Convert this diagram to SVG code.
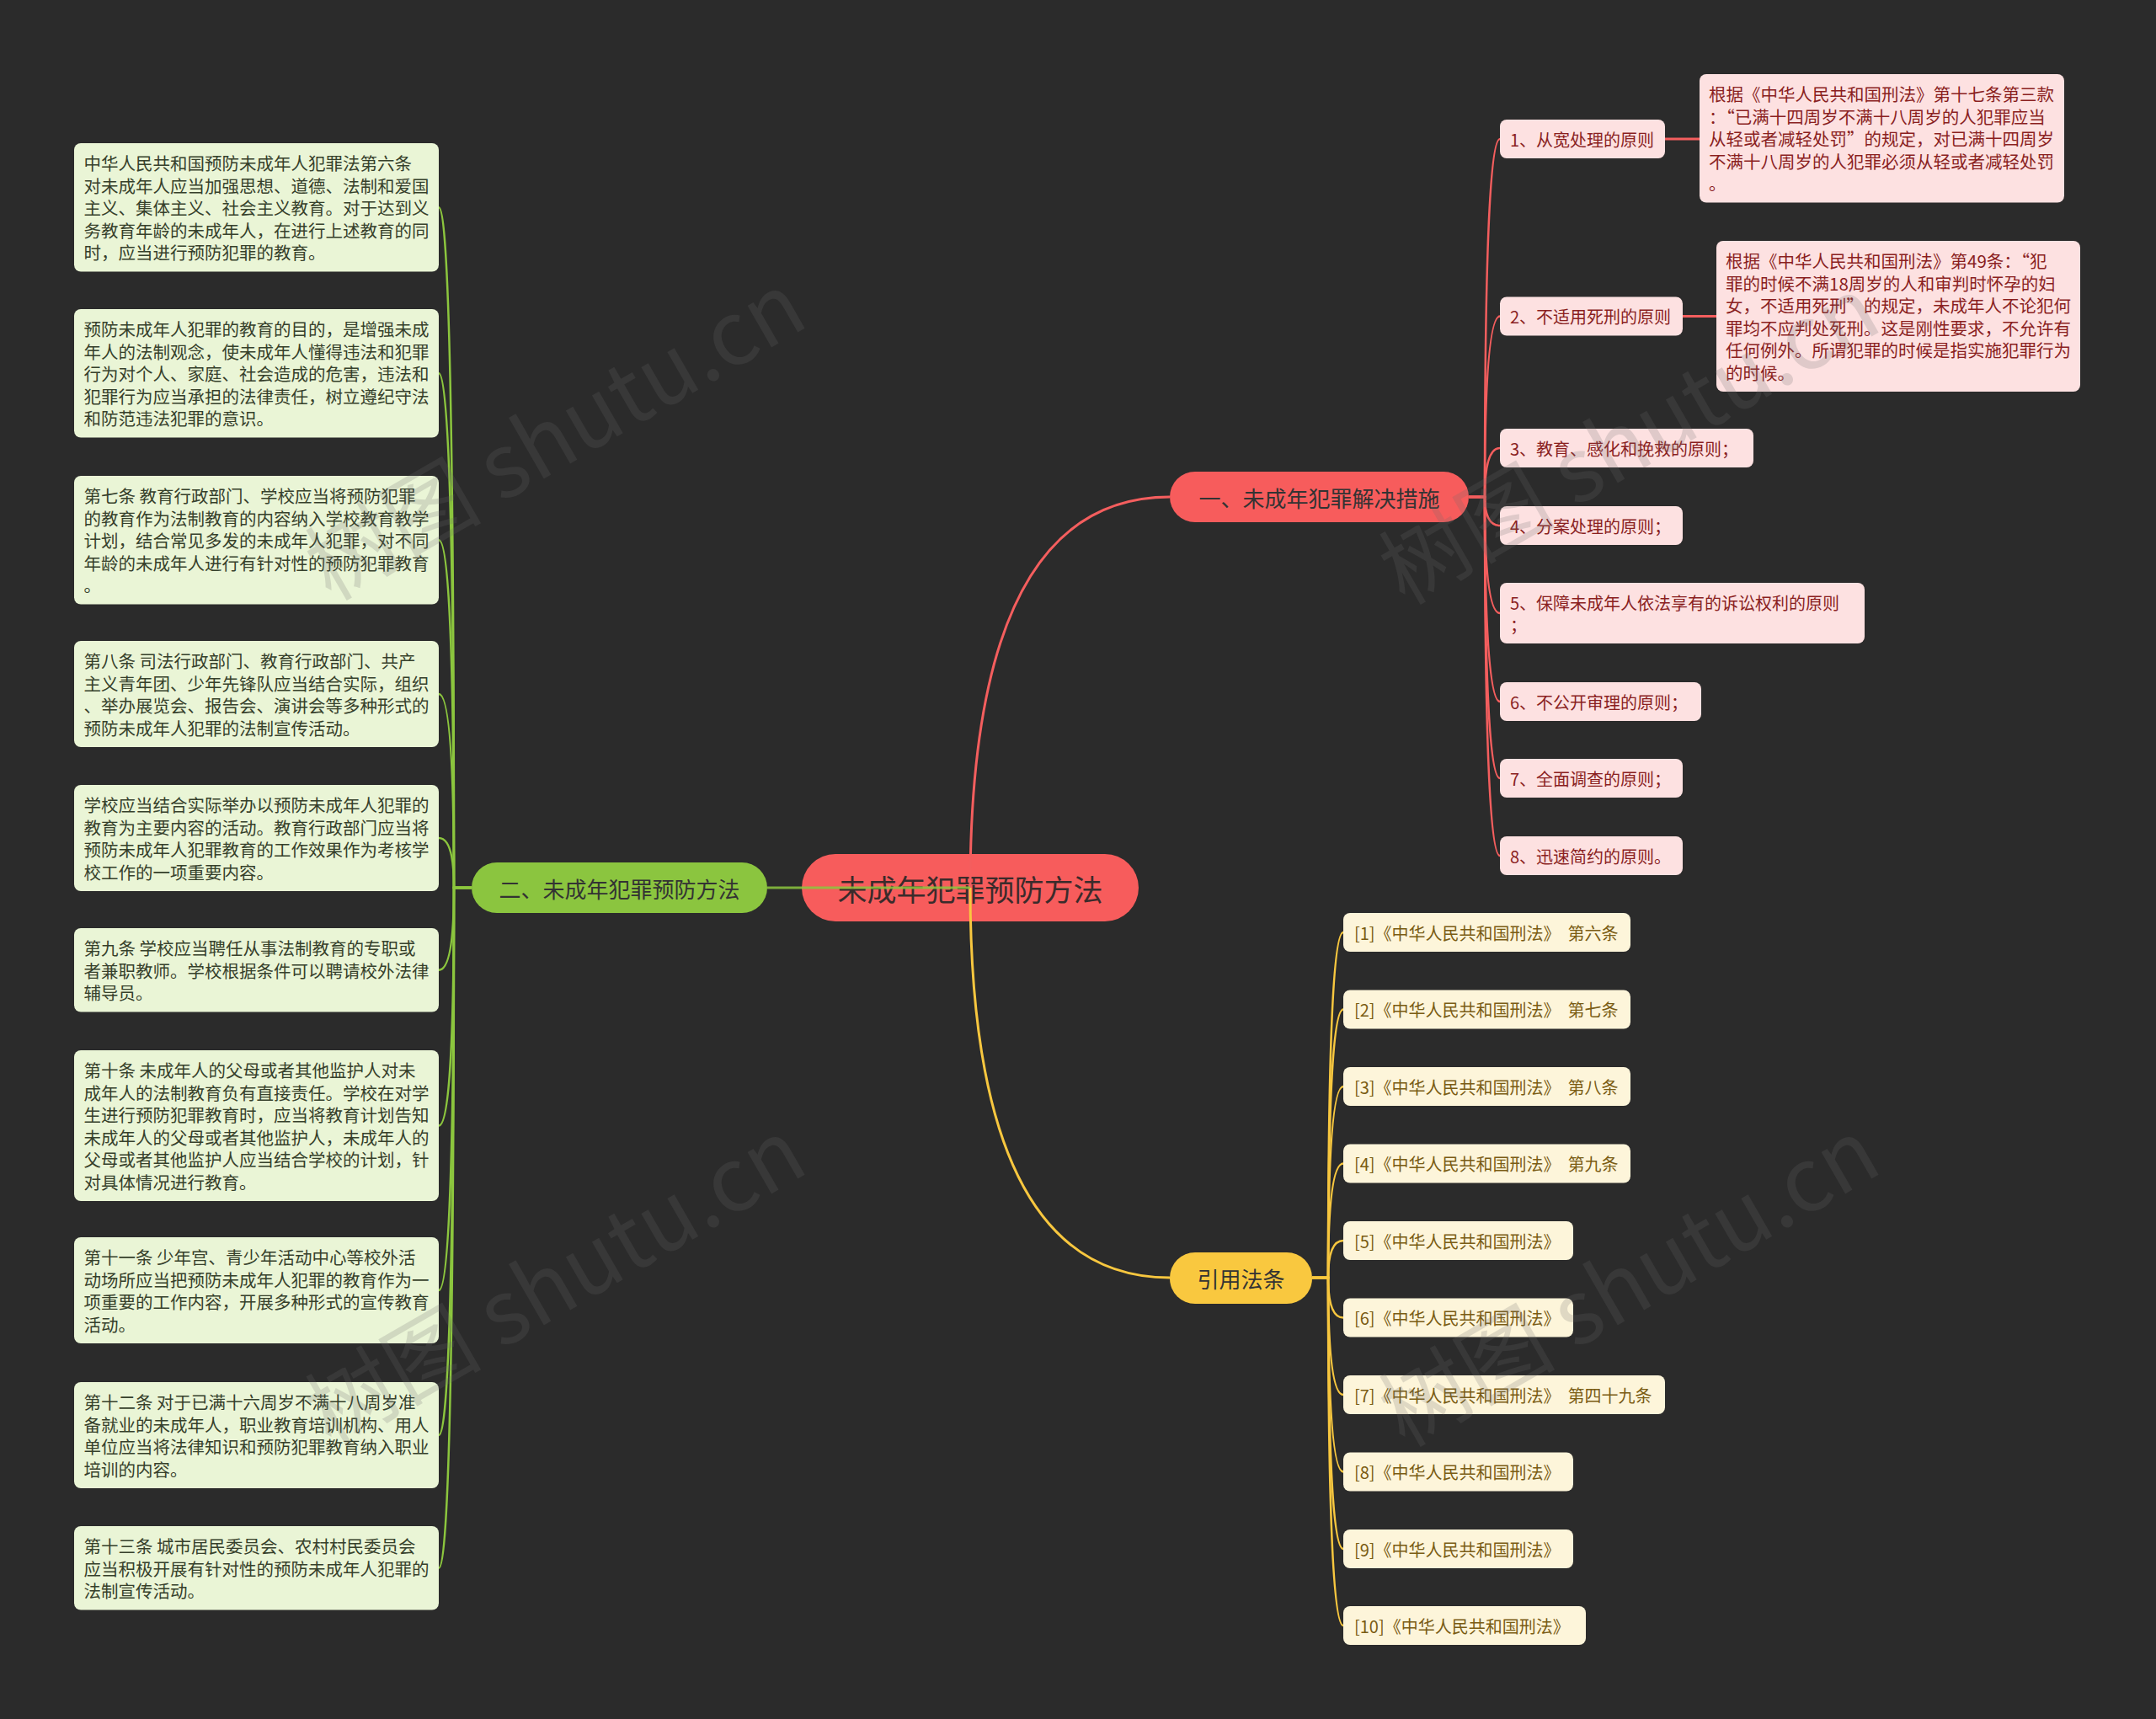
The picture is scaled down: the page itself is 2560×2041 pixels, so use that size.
<svg xmlns="http://www.w3.org/2000/svg" width="2560" height="2041" viewBox="0 0 2560 2041">
<style>
text{font-family:"Noto Sans CJK SC","Noto Sans",sans-serif;dominant-baseline:central}
.bg{fill:#2b2b2b}
.lb{fill:#eaf5d6}
.lt{font-size:20.5px;fill:#36402b}
.pb{fill:#fde1e1}
.pt{font-size:20px;fill:#8a1f1f}
.dt{font-size:20.5px;fill:#8a1f1f}
.yb{fill:#fdf5da}
.yt{font-size:20px;fill:#7a5c14;white-space:pre}
.mt{font-size:26px;fill:#333333;text-anchor:middle}
.rt{font-size:35px;fill:#3b2b2b;text-anchor:middle}
.cr{fill:none;stroke:#f45e5e;stroke-width:3}
.cg{fill:none;stroke:#8cc63e;stroke-width:3;stroke-opacity:.85}
.cy{fill:none;stroke:#f8c73f;stroke-width:3}
.cr2{fill:none;stroke:#f45e5e;stroke-width:2.5}
.cg2{fill:none;stroke:#8cc63e;stroke-width:2.5}
.cy2{fill:none;stroke:#f8c73f;stroke-width:2.5}
.wm{font-size:105px;fill:#6b6b6b;opacity:.2;text-anchor:middle}
</style>
<rect class="bg" x="0" y="0" width="2560" height="2041"/>

<g id="root">
<rect x="952" y="1014" width="400" height="80" rx="40" fill="#f75c5c"/>
<text class="rt" x="1152" y="1054">未成年犯罪预防方法</text>
</g>

<g id="n1">
<rect x="1389" y="560" width="355" height="60" rx="30" fill="#f75c5c"/>
<text class="mt" x="1566.5" y="590">一、未成年犯罪解决措施</text>
</g>
<g id="n2">
<rect x="560" y="1024" width="351" height="60" rx="30" fill="#8bc53f"/>
<text class="mt" x="735.5" y="1054">二、未成年犯罪预防方法</text>
</g>
<g id="n3">
<rect x="1389" y="1487" width="169" height="61" rx="30" fill="#f9c83f"/>
<text class="mt" x="1473.5" y="1517.5">引用法条</text>
</g>

<!-- node1 children -->
<g id="c1"><rect class="pb" x="1781" y="142" width="196" height="46" rx="8"/><text class="pt" x="1793" y="165">1、从宽处理的原则</text></g>
<g id="c2"><rect class="pb" x="1781" y="352.5" width="217" height="46" rx="8"/><text class="pt" x="1793" y="375.5">2、不适用死刑的原则</text></g>
<g id="c3"><rect class="pb" x="1781" y="509" width="301" height="46" rx="8"/><text class="pt" x="1793" y="532">3、教育、感化和挽救的原则；</text></g>
<g id="c4"><rect class="pb" x="1781" y="601" width="217" height="46" rx="8"/><text class="pt" x="1793" y="624">4、分案处理的原则；</text></g>
<g id="c5"><rect class="pb" x="1781" y="692" width="433" height="72" rx="8"/><text class="pt" x="1793" y="715">5、保障未成年人依法享有的诉讼权利的原则</text><text class="pt" x="1793" y="741">；</text></g>
<g id="c6"><rect class="pb" x="1781" y="810" width="239" height="46" rx="8"/><text class="pt" x="1793" y="833">6、不公开审理的原则；</text></g>
<g id="c7"><rect class="pb" x="1781" y="901" width="217" height="46" rx="8"/><text class="pt" x="1793" y="924">7、全面调查的原则；</text></g>
<g id="c8"><rect class="pb" x="1781" y="993" width="217" height="46" rx="8"/><text class="pt" x="1793" y="1016">8、迅速简约的原则。</text></g>

<g id="d1"><rect class="pb" x="2018" y="88" width="433" height="152.5" rx="8"/>
<text class="dt" x="2029" y="111.25">根据《中华人民共和国刑法》第十七条第三款</text>
<text class="dt" x="2029" y="137.75">：“已满十四周岁不满十八周岁的人犯罪应当</text>
<text class="dt" x="2029" y="164.25">从轻或者减轻处罚”的规定，对已满十四周岁</text>
<text class="dt" x="2029" y="190.75">不满十八周岁的人犯罪必须从轻或者减轻处罚</text>
<text class="dt" x="2029" y="217.25">。</text>
</g>
<g id="d2"><rect class="pb" x="2038" y="286" width="432" height="179" rx="8"/>
<text class="dt" x="2049" y="309.25">根据《中华人民共和国刑法》第49条：“犯</text>
<text class="dt" x="2049" y="335.75">罪的时候不满18周岁的人和审判时怀孕的妇</text>
<text class="dt" x="2049" y="362.25">女，不适用死刑”的规定，未成年人不论犯何</text>
<text class="dt" x="2049" y="388.75">罪均不应判处死刑。这是刚性要求，不允许有</text>
<text class="dt" x="2049" y="415.25">任何例外。所谓犯罪的时候是指实施犯罪行为</text>
<text class="dt" x="2049" y="441.75">的时候。</text>
</g>

<!-- left boxes -->
<g id="b1"><rect class="lb" x="88" y="170" width="433" height="152.5" rx="8"/>
<text class="lt" x="99.5" y="193.25">中华人民共和国预防未成年人犯罪法第六条</text>
<text class="lt" x="99.5" y="219.75">对未成年人应当加强思想、道德、法制和爱国</text>
<text class="lt" x="99.5" y="246.25">主义、集体主义、社会主义教育。对于达到义</text>
<text class="lt" x="99.5" y="272.75">务教育年龄的未成年人，在进行上述教育的同</text>
<text class="lt" x="99.5" y="299.25">时，应当进行预防犯罪的教育。</text>
</g>
<g id="b2"><rect class="lb" x="88" y="367" width="433" height="152.5" rx="8"/>
<text class="lt" x="99.5" y="390.25">预防未成年人犯罪的教育的目的，是增强未成</text>
<text class="lt" x="99.5" y="416.75">年人的法制观念，使未成年人懂得违法和犯罪</text>
<text class="lt" x="99.5" y="443.25">行为对个人、家庭、社会造成的危害，违法和</text>
<text class="lt" x="99.5" y="469.75">犯罪行为应当承担的法律责任，树立遵纪守法</text>
<text class="lt" x="99.5" y="496.25">和防范违法犯罪的意识。</text>
</g>
<g id="b3"><rect class="lb" x="88" y="565" width="433" height="152.5" rx="8"/>
<text class="lt" x="99.5" y="588.25">第七条 教育行政部门、学校应当将预防犯罪</text>
<text class="lt" x="99.5" y="614.75">的教育作为法制教育的内容纳入学校教育教学</text>
<text class="lt" x="99.5" y="641.25">计划，结合常见多发的未成年人犯罪，对不同</text>
<text class="lt" x="99.5" y="667.75">年龄的未成年人进行有针对性的预防犯罪教育</text>
<text class="lt" x="99.5" y="694.25">。</text>
</g>
<g id="b4"><rect class="lb" x="88" y="761" width="433" height="126" rx="8"/>
<text class="lt" x="99.5" y="784.25">第八条 司法行政部门、教育行政部门、共产</text>
<text class="lt" x="99.5" y="810.75">主义青年团、少年先锋队应当结合实际，组织</text>
<text class="lt" x="99.5" y="837.25">、举办展览会、报告会、演讲会等多种形式的</text>
<text class="lt" x="99.5" y="863.75">预防未成年人犯罪的法制宣传活动。</text>
</g>
<g id="b5"><rect class="lb" x="88" y="932" width="433" height="126" rx="8"/>
<text class="lt" x="99.5" y="955.25">学校应当结合实际举办以预防未成年人犯罪的</text>
<text class="lt" x="99.5" y="981.75">教育为主要内容的活动。教育行政部门应当将</text>
<text class="lt" x="99.5" y="1008.25">预防未成年人犯罪教育的工作效果作为考核学</text>
<text class="lt" x="99.5" y="1034.75">校工作的一项重要内容。</text>
</g>
<g id="b6"><rect class="lb" x="88" y="1102" width="433" height="99.5" rx="8"/>
<text class="lt" x="99.5" y="1125.25">第九条 学校应当聘任从事法制教育的专职或</text>
<text class="lt" x="99.5" y="1151.75">者兼职教师。学校根据条件可以聘请校外法律</text>
<text class="lt" x="99.5" y="1178.25">辅导员。</text>
</g>
<g id="b7"><rect class="lb" x="88" y="1247" width="433" height="179" rx="8"/>
<text class="lt" x="99.5" y="1270.25">第十条 未成年人的父母或者其他监护人对未</text>
<text class="lt" x="99.5" y="1296.75">成年人的法制教育负有直接责任。学校在对学</text>
<text class="lt" x="99.5" y="1323.25">生进行预防犯罪教育时，应当将教育计划告知</text>
<text class="lt" x="99.5" y="1349.75">未成年人的父母或者其他监护人，未成年人的</text>
<text class="lt" x="99.5" y="1376.25">父母或者其他监护人应当结合学校的计划，针</text>
<text class="lt" x="99.5" y="1402.75">对具体情况进行教育。</text>
</g>
<g id="b8"><rect class="lb" x="88" y="1469" width="433" height="126" rx="8"/>
<text class="lt" x="99.5" y="1492.25">第十一条 少年宫、青少年活动中心等校外活</text>
<text class="lt" x="99.5" y="1518.75">动场所应当把预防未成年人犯罪的教育作为一</text>
<text class="lt" x="99.5" y="1545.25">项重要的工作内容，开展多种形式的宣传教育</text>
<text class="lt" x="99.5" y="1571.75">活动。</text>
</g>
<g id="b9"><rect class="lb" x="88" y="1641" width="433" height="126" rx="8"/>
<text class="lt" x="99.5" y="1664.25">第十二条 对于已满十六周岁不满十八周岁准</text>
<text class="lt" x="99.5" y="1690.75">备就业的未成年人，职业教育培训机构、用人</text>
<text class="lt" x="99.5" y="1717.25">单位应当将法律知识和预防犯罪教育纳入职业</text>
<text class="lt" x="99.5" y="1743.75">培训的内容。</text>
</g>
<g id="b10"><rect class="lb" x="88" y="1812" width="433" height="99.5" rx="8"/>
<text class="lt" x="99.5" y="1835.25">第十三条 城市居民委员会、农村村民委员会</text>
<text class="lt" x="99.5" y="1861.75">应当积极开展有针对性的预防未成年人犯罪的</text>
<text class="lt" x="99.5" y="1888.25">法制宣传活动。</text>
</g>

<!-- references -->
<g id="r1"><rect class="yb" x="1595" y="1084" width="341" height="46" rx="8"/><text class="yt" x="1608" y="1107">[1]《中华人民共和国刑法》  第六条</text></g>
<g id="r2"><rect class="yb" x="1595" y="1175.5" width="341" height="46" rx="8"/><text class="yt" x="1608" y="1198.5">[2]《中华人民共和国刑法》  第七条</text></g>
<g id="r3"><rect class="yb" x="1595" y="1267" width="341" height="46" rx="8"/><text class="yt" x="1608" y="1290">[3]《中华人民共和国刑法》  第八条</text></g>
<g id="r4"><rect class="yb" x="1595" y="1358.5" width="341" height="46" rx="8"/><text class="yt" x="1608" y="1381.5">[4]《中华人民共和国刑法》  第九条</text></g>
<g id="r5"><rect class="yb" x="1595" y="1450" width="273" height="46" rx="8"/><text class="yt" x="1608" y="1473">[5]《中华人民共和国刑法》</text></g>
<g id="r6"><rect class="yb" x="1595" y="1541.5" width="273" height="46" rx="8"/><text class="yt" x="1608" y="1564.5">[6]《中华人民共和国刑法》</text></g>
<g id="r7"><rect class="yb" x="1595" y="1633" width="382" height="46" rx="8"/><text class="yt" x="1608" y="1656">[7]《中华人民共和国刑法》  第四十九条</text></g>
<g id="r8"><rect class="yb" x="1595" y="1724.5" width="273" height="46" rx="8"/><text class="yt" x="1608" y="1747.5">[8]《中华人民共和国刑法》</text></g>
<g id="r9"><rect class="yb" x="1595" y="1816" width="273" height="46" rx="8"/><text class="yt" x="1608" y="1839">[9]《中华人民共和国刑法》</text></g>
<g id="r10"><rect class="yb" x="1595" y="1907" width="288" height="46" rx="8"/><text class="yt" x="1608" y="1930">[10]《中华人民共和国刑法》</text></g>

<g id="connectors">
<path class="cr" d="M1152,1054 Q1152,590 1389,590"/>
<path class="cy" d="M1152,1054 Q1152,1517 1389,1517"/>
<path class="cg" d="M911,1054 L1152,1054"/>

<path class="cr2" d="M1744,590 L1763,590 Q1763,165 1781,165"/>
<path class="cr2" d="M1744,590 L1763,590 Q1763,375.5 1781,375.5"/>
<path class="cr2" d="M1744,590 L1763,590 Q1763,532 1781,532"/>
<path class="cr2" d="M1744,590 L1763,590 Q1763,624 1781,624"/>
<path class="cr2" d="M1744,590 L1763,590 Q1763,728 1781,728"/>
<path class="cr2" d="M1744,590 L1763,590 Q1763,833 1781,833"/>
<path class="cr2" d="M1744,590 L1763,590 Q1763,924 1781,924"/>
<path class="cr2" d="M1744,590 L1763,590 Q1763,1016 1781,1016"/>
<path class="cr" d="M1977,165 L2018,165"/>
<path class="cr" d="M1998,375.5 L2038,375.5"/>

<path class="cg2" d="M560,1054 L539,1054 Q539,246.25 521,246.25"/>
<path class="cg2" d="M560,1054 L539,1054 Q539,443.25 521,443.25"/>
<path class="cg2" d="M560,1054 L539,1054 Q539,641.25 521,641.25"/>
<path class="cg2" d="M560,1054 L539,1054 Q539,824 521,824"/>
<path class="cg2" d="M560,1054 L539,1054 Q539,995 521,995"/>
<path class="cg2" d="M560,1054 L539,1054 Q539,1151.75 521,1151.75"/>
<path class="cg2" d="M560,1054 L539,1054 Q539,1336.5 521,1336.5"/>
<path class="cg2" d="M560,1054 L539,1054 Q539,1532 521,1532"/>
<path class="cg2" d="M560,1054 L539,1054 Q539,1704 521,1704"/>
<path class="cg2" d="M560,1054 L539,1054 Q539,1861.75 521,1861.75"/>

<path class="cy2" d="M1558,1517 L1577,1517 Q1577,1107 1595,1107"/>
<path class="cy2" d="M1558,1517 L1577,1517 Q1577,1198.5 1595,1198.5"/>
<path class="cy2" d="M1558,1517 L1577,1517 Q1577,1290 1595,1290"/>
<path class="cy2" d="M1558,1517 L1577,1517 Q1577,1381.5 1595,1381.5"/>
<path class="cy2" d="M1558,1517 L1577,1517 Q1577,1473 1595,1473"/>
<path class="cy2" d="M1558,1517 L1577,1517 Q1577,1564.5 1595,1564.5"/>
<path class="cy2" d="M1558,1517 L1577,1517 Q1577,1656 1595,1656"/>
<path class="cy2" d="M1558,1517 L1577,1517 Q1577,1747.5 1595,1747.5"/>
<path class="cy2" d="M1558,1517 L1577,1517 Q1577,1839 1595,1839"/>
<path class="cy2" d="M1558,1517 L1577,1517 Q1577,1930 1595,1930"/>
</g>

<g id="watermarks">
<text class="wm" x="655" y="510" transform="rotate(-30 655 510)">树图 shutu.cn</text>
<text class="wm" x="1930" y="515" transform="rotate(-30 1930 515)">树图 shutu.cn</text>
<text class="wm" x="655" y="1515" transform="rotate(-30 655 1515)">树图 shutu.cn</text>
<text class="wm" x="1930" y="1515" transform="rotate(-30 1930 1515)">树图 shutu.cn</text>
</g>
</svg>
